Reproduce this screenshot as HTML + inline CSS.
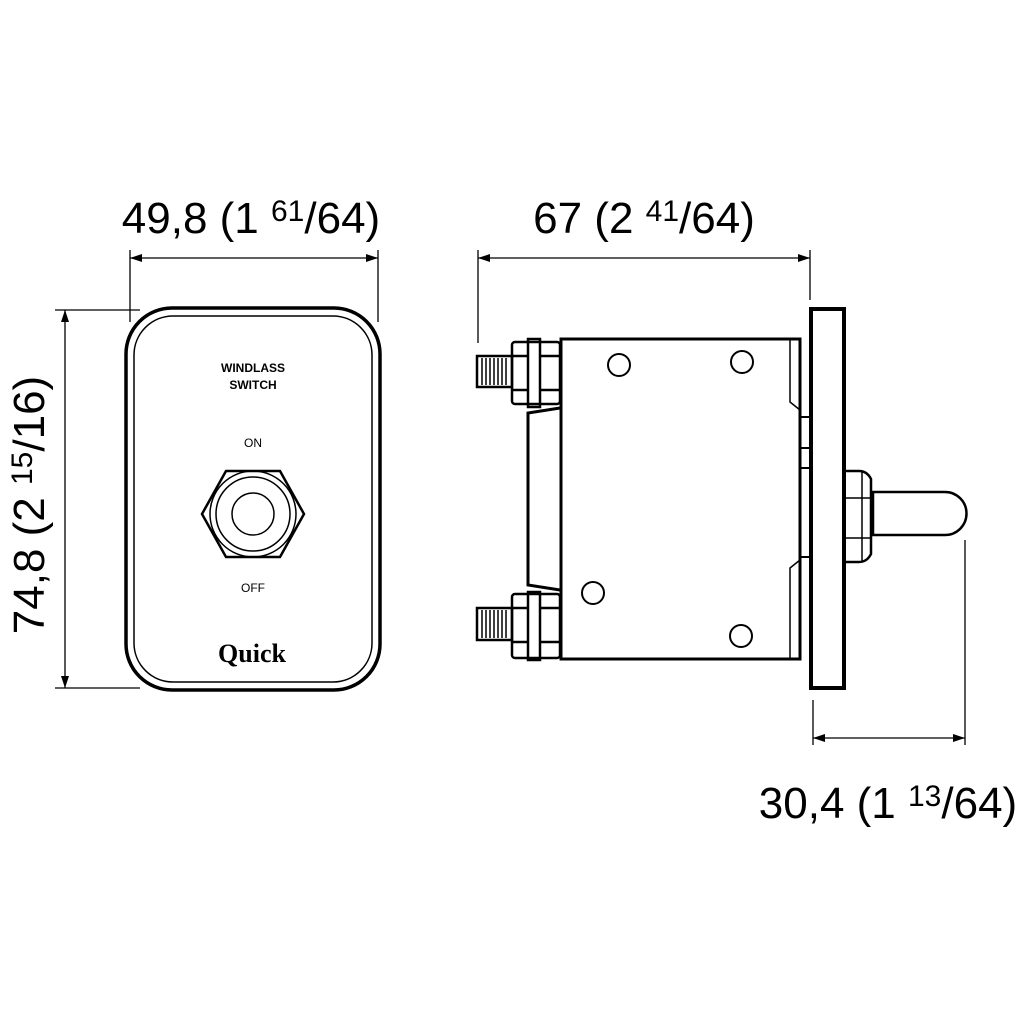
<!DOCTYPE html>
<html><head><style>body{margin:0;background:#fff}svg{display:block}</style></head><body>
<svg width="1024" height="1024" viewBox="0 0 1024 1024" xmlns="http://www.w3.org/2000/svg" font-family="Liberation Sans, sans-serif">
<rect width="1024" height="1024" fill="#fff"/>
<g stroke="#000" fill="none">
<g stroke-width="1.3">
<line x1="130" y1="250" x2="130" y2="322"/><line x1="378" y1="250" x2="378" y2="322"/>
<line x1="130" y1="258" x2="378" y2="258"/>
<line x1="55" y1="310" x2="140" y2="310"/><line x1="55" y1="688" x2="140" y2="688"/>
<line x1="65" y1="310" x2="65" y2="688"/>
<line x1="478" y1="250" x2="478" y2="343"/><line x1="810" y1="250" x2="810" y2="300"/>
<line x1="478" y1="258" x2="810" y2="258"/>
<line x1="813" y1="700" x2="813" y2="745"/><line x1="965" y1="540" x2="965" y2="745"/>
<line x1="813" y1="738" x2="965" y2="738"/>
</g>
<g fill="#000" stroke="none">
<path d="M130 258l12-4v8z"/><path d="M378 258l-12-4v8z"/>
<path d="M65 310l-4 12h8z"/><path d="M65 688l-4-12h8z"/>
<path d="M478 258l12-4v8z"/><path d="M810 258l-12-4v8z"/>
<path d="M813 738l12-4v8z"/><path d="M965 738l-12-4v8z"/>
</g>
<rect x="126" y="308" width="254" height="382" rx="46" stroke-width="3.5"/>
<rect x="134" y="316" width="238" height="366" rx="39" stroke-width="1.5"/>
<polygon points="202,514 226,471 280,471 304,514 280,557 226,557" stroke-width="2.5"/>
<circle cx="253" cy="514" r="43" stroke-width="1.5"/>
<circle cx="253" cy="514" r="37" stroke-width="1.5"/>
<circle cx="253" cy="514" r="21" stroke-width="1.5"/>
<rect x="561" y="339" width="239" height="320" stroke-width="3"/>
<path d="M790 340v62l10 8M790 658v-90l10-8" stroke-width="1.5"/>
<path d="M800 417h11M800 557h11M800 448h11M800 468h11" stroke-width="2"/>
<rect x="811" y="309" width="33" height="379" stroke-width="4"/>
<path d="M560 408l-32 5v172l32 5" stroke-width="3"/>
<circle cx="619" cy="365" r="11" stroke-width="2"/>
<circle cx="742" cy="362" r="11" stroke-width="2"/>
<circle cx="593" cy="593" r="11" stroke-width="2"/>
<circle cx="741" cy="636" r="11" stroke-width="2"/>
<g stroke-width="2.5">
<rect x="512" y="342" width="48" height="62" rx="3"/>
<rect x="528" y="339" width="12" height="68"/>
<line x1="512" y1="356" x2="528" y2="356"/><line x1="512" y1="390" x2="528" y2="390"/>
<line x1="540" y1="356" x2="560" y2="356"/><line x1="540" y1="390" x2="560" y2="390"/>
<rect x="477" y="356" width="35" height="31"/>
<rect x="512" y="594" width="48" height="64" rx="3"/>
<rect x="528" y="592" width="12" height="68"/>
<line x1="512" y1="608" x2="528" y2="608"/><line x1="512" y1="642" x2="528" y2="642"/>
<line x1="540" y1="608" x2="560" y2="608"/><line x1="540" y1="642" x2="560" y2="642"/>
<rect x="477" y="608" width="35" height="32"/>
</g>
<g stroke-width="1.5">
<path d="M482 358v27M486 358v27M490 358v27M494 358v27M498 358v27M502 358v27M506 358v27"/>
<path d="M482 610v28M486 610v28M490 610v28M494 610v28M498 610v28M502 610v28M506 610v28"/>
</g>
<path d="M844 471h15q8 0 12 8v75q-4 8-12 8h-15" stroke-width="2.5"/>
<path d="M846 498h25M846 538h25M862 472v90" stroke-width="1.5"/>
<path d="M873 492h72a21 21 0 0 1 0 43h-72z" stroke-width="2.5"/>
</g>
<g fill="#000" text-anchor="middle">
<text x="251" y="233" font-size="44">49,8 (1 <tspan font-size="30" dy="-12">61</tspan><tspan dy="12">/64)</tspan></text>
<text x="644" y="233" font-size="44">67 (2 <tspan font-size="30" dy="-12">41</tspan><tspan dy="12">/64)</tspan></text>
<text x="888" y="818" font-size="44">30,4 (1 <tspan font-size="30" dy="-12">13</tspan><tspan dy="12">/64)</tspan></text>
<text transform="translate(44 505) rotate(-90)" font-size="44">74,8 (2 <tspan font-size="30" dy="-12">15</tspan><tspan dy="12">/16)</tspan></text>
<text x="253" y="372" font-size="12" font-weight="bold">WINDLASS</text>
<text x="253" y="389" font-size="12" font-weight="bold">SWITCH</text>
<text x="253" y="447" font-size="12">ON</text>
<text x="253" y="592" font-size="12">OFF</text>
<text x="252" y="662" font-size="26" font-weight="bold" font-family="Liberation Serif, serif">Quick</text>
</g>
</svg>
</body></html>
